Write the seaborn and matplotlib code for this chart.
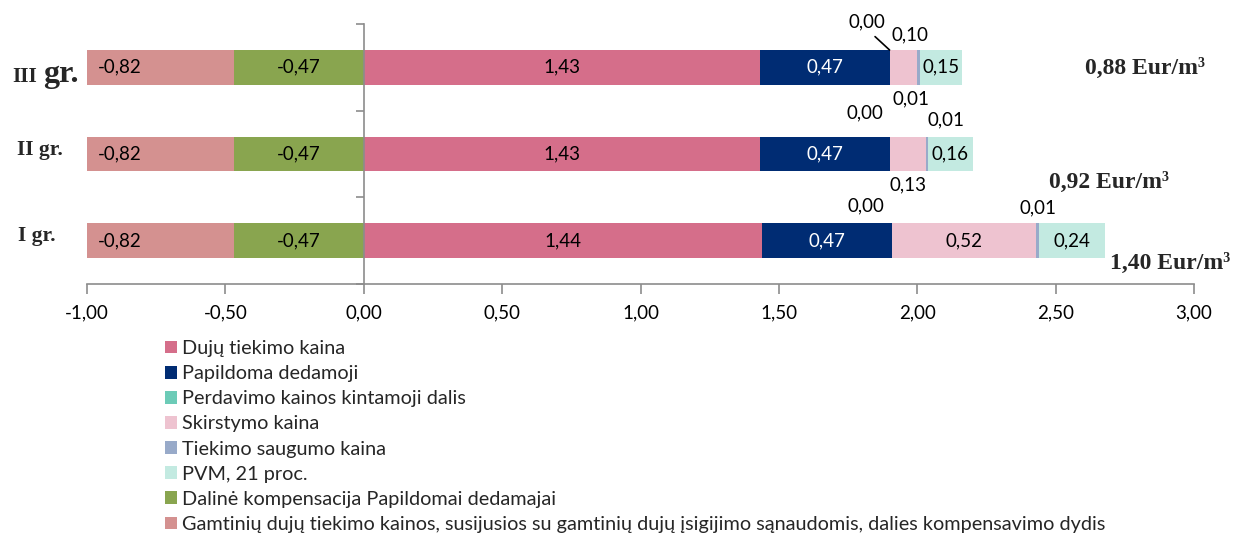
import matplotlib
matplotlib.use("Agg")
import matplotlib.pyplot as plt
import seaborn as sns
import numpy as np
import pandas as pd
from matplotlib.patches import Patch

# ---------------- data ----------------
groups = ["III gr.", "II gr.", "I gr."]
dujų_tiekimo = [1.43, 1.43, 1.44]
papildoma = [0.47, 0.47, 0.47]
perdavimo = [0.00, 0.00, 0.00]
skirstymo = [0.10, 0.13, 0.52]
saugumo = [0.01, 0.01, 0.01]
pvm = [0.15, 0.16, 0.24]
daline_komp = [-0.47, -0.47, -0.47]
gamtiniu_komp = [-0.82, -0.82, -0.82]
totals = ["0,88 Eur/m³", "0,92 Eur/m³", "1,40 Eur/m³"]
x_ticks = [-1.0, -0.5, 0.0, 0.5, 1.0, 1.5, 2.0, 2.5, 3.0]

pos_names = ["Dujų tiekimo kaina", "Papildoma dedamoji", "Perdavimo kainos kintamoji dalis",
             "Skirstymo kaina", "Tiekimo saugumo kaina", "PVM, 21 proc."]
neg_names = ["Dalinė kompensacija Papildomai dedamajai",
             "Gamtinių dujų tiekimo kainos, susijusios su gamtinių dujų įsigijimo sąnaudomis, dalies kompensavimo dydis"]
pos_vals = [dujų_tiekimo, papildoma, perdavimo, skirstymo, saugumo, pvm]
neg_vals = [daline_komp, gamtiniu_komp]
colors = {
    pos_names[0]: "#D56E8A",
    pos_names[1]: "#002C73",
    pos_names[2]: "#6CCBB7",
    pos_names[3]: "#EEC3D0",
    pos_names[4]: "#98AAC9",
    pos_names[5]: "#C3EAE1",
    neg_names[0]: "#89A54F",
    neg_names[1]: "#D49190",
}

sns.set_theme(style="white")
plt.rcParams["font.family"] = ["Lato", "DejaVu Sans"]

W, H = 1234, 536
fig = plt.figure(figsize=(W / 100, H / 100), dpi=100)
ax = fig.add_axes([87 / W, 1 - 284 / H, (1194 - 87) / W, (284 - 24) / H])

# cumulative ends
pos_arr = np.array(pos_vals)
neg_arr = np.array(neg_vals)
pos_end = np.cumsum(pos_arr, axis=0)
pos_start = pos_end - pos_arr
neg_end = np.cumsum(neg_arr, axis=0)
neg_start = neg_end - neg_arr

BW = 0.4
# draw outermost first so inner segments overlay them
for i in reversed(range(len(pos_names))):
    df = pd.DataFrame({"grp": groups, "val": pos_end[i]})
    sns.barplot(data=df, x="val", y="grp", orient="h", color=colors[pos_names[i]],
                saturation=1, width=BW, errorbar=None, linewidth=0, ax=ax)
for i in reversed(range(len(neg_names))):
    df = pd.DataFrame({"grp": groups, "val": neg_end[i]})
    sns.barplot(data=df, x="val", y="grp", orient="h", color=colors[neg_names[i]],
                saturation=1, width=BW, errorbar=None, linewidth=0, ax=ax)

ax.set_xlim(-1, 3)
ax.set_ylim(2.5, -0.5)
ax.set_xlabel("")
ax.set_ylabel("")

def fmt(v):
    return f"{v:.2f}".replace(".", ",")

ax.set_xticks(x_ticks)
ax.set_xticklabels([fmt(v) for v in x_ticks], fontsize=13.5, color="black")
ax.set_yticks([-0.5, 0, 0.5, 1, 1.5, 2, 2.5])
ax.set_yticklabels([])

gray = "#8C8C8C"
for s in ["top", "right"]:
    ax.spines[s].set_visible(False)
ax.spines["left"].set_position(("data", 0))
ax.spines["left"].set_color(gray)
ax.spines["bottom"].set_color(gray)
ax.spines["left"].set_linewidth(1.2)
ax.spines["bottom"].set_linewidth(1.2)
ax.tick_params(axis="x", direction="out", length=7, width=1.2, color=gray, pad=8, bottom=True)
ax.tick_params(axis="y", direction="out", length=6, width=1.2, color=gray, left=True)
ax.grid(False)

# ---------------- value labels ----------------
# special offsets (pixels) relative to segment centre for small segments
offsets = {
    (2, 0): (-24, 45), (3, 0): (7, 32), (4, 0): (-8, -32),
    (2, 1): (-25, 41), (3, 1): (0, -31), (4, 1): (19, 34),
    (2, 2): (-26, 35), (4, 2): (0, 33),
}
fs = 13.5
for i, name in enumerate(pos_names):
    for g in range(len(groups)):
        v = pos_arr[i, g]
        cx = (pos_start[i, g] + pos_end[i, g]) / 2
        col = "white" if name == "Papildoma dedamoji" else "black"
        if (i, g) in offsets:
            dx, dy = offsets[(i, g)]
            if (i, g) == (2, 0):
                ax.annotate(fmt(v), xy=(cx, g - BW / 2), xytext=(-23, 28),
                            textcoords="offset pixels", ha="center", va="center",
                            fontsize=fs, color="black",
                            arrowprops=dict(arrowstyle="-", color="black", lw=1.2,
                                            shrinkA=3, shrinkB=0, relpos=(0.55, 0.0)))
            else:
                ax.annotate(fmt(v), xy=(cx, g), xytext=(dx, dy), textcoords="offset pixels",
                            ha="center", va="center", fontsize=fs, color="black")
        else:
            ax.text(cx, g, fmt(v), ha="center", va="center", fontsize=fs, color=col)
for i, name in enumerate(neg_names):
    for g in range(len(groups)):
        v = neg_arr[i, g]
        cx = (neg_start[i, g] + neg_end[i, g]) / 2
        ax.text(cx, g, fmt(v), ha="center", va="center", fontsize=fs, color="black")

# ---------------- category labels ----------------
serif = ["Liberation Serif", "DejaVu Serif"]
fig.text(12 / W, 1 - 82 / H, "III", fontsize=15.5, fontweight="bold", family=serif, va="baseline")
fig.text(43 / W, 1 - 82 / H, "gr.", fontsize=23, fontweight="bold", family=serif, va="baseline")
fig.text(17 / W, 1 - 155 / H, "II gr.", fontsize=15.5, fontweight="bold", family=serif, va="baseline")
fig.text(18 / W, 1 - 241 / H, "I gr.", fontsize=15.5, fontweight="bold", family=serif, va="baseline")

# ---------------- totals ----------------
tot_pos = [(1085, 68), (1049, 182), (1110, 263)]
for t, (px, py) in zip(totals, tot_pos):
    fig.text(px / W, 1 - py / H, t, fontsize=17, fontweight="bold", family=serif,
             ha="left", va="center")

# ---------------- legend ----------------
handles = [Patch(facecolor=colors[n], edgecolor="none") for n in pos_names + neg_names]
labels = pos_names + neg_names
fig.legend(handles, labels, loc="upper left", bbox_to_anchor=(165 / W, 1 - 340 / H),
           frameon=False, fontsize=14.3, handlelength=0.62, handleheight=0.62,
           handletextpad=0.25, labelspacing=0.41, borderaxespad=0, borderpad=0)

fig.savefig("out.png", dpi=100)
